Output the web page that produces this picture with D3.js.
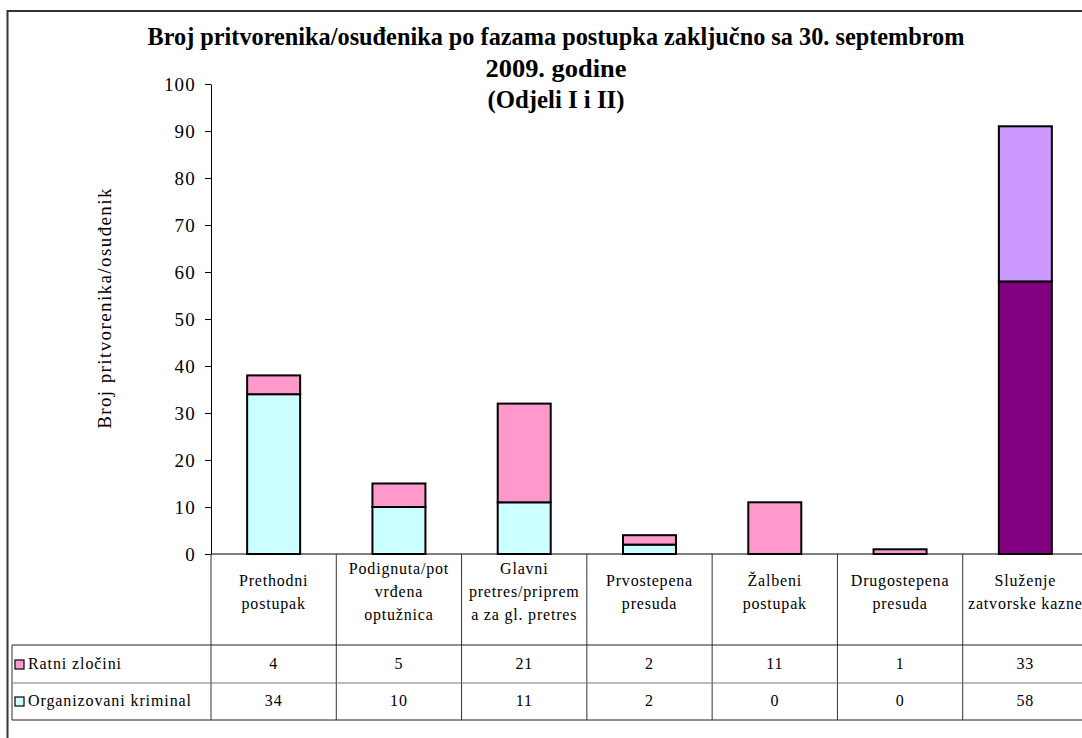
<!DOCTYPE html>
<html>
<head>
<meta charset="utf-8">
<script src="https://cdn.jsdelivr.net/npm/d3@7"></script>
<style>
  body { margin: 0; background: #fff; }
</style>
</head>
<body>
<div id="chart"></div>
<script>
// categories (table header lines, as wrapped in the original)
var categories = ["Prethodni postupak", "Podignuta/potvrđena optužnica", "Glavni pretres/priprema za gl. pretres",
                  "Prvostepena presuda", "Žalbeni postupak", "Drugostepena presuda", "Služenje zatvorske kazne"];
var headerLines = [["Prethodni", "postupak"], ["Podignuta/pot", "vrđena", "optužnica"],
                   ["Glavni", "pretres/priprem", "a za gl. pretres"], ["Prvostepena", "presuda"],
                   ["Žalbeni", "postupak"], ["Drugostepena", "presuda"], ["Služenje", "zatvorske kazne"]];

var seriesNames = ["Ratni zločini", "Organizovani kriminal"];
var ratni = [4, 5, 21, 2, 11, 1, 33];
var organizovani = [34, 10, 11, 2, 0, 0, 58];

var yTicks = [0, 10, 20, 30, 40, 50, 60, 70, 80, 90, 100];

var titleLines = ["Broj pritvorenika/osuđenika po fazama postupka zaključno sa 30. septembrom",
                  "2009. godine", "(Odjeli I i II)"];
var yLabel = "Broj pritvorenika/osuđenik";

(function() {
    var FONT = "'Liberation Serif', 'Times New Roman', serif";
    var W = 1082, H = 738;
    var svg = d3.select("#chart").append("svg").attr("width", W).attr("height", H)
        .attr("font-family", FONT);

    // outer frame (right/bottom edges fall outside the picture)
    svg.append("path").attr("d", "M7.5,738 V11 H1082")
        .attr("fill", "none").attr("stroke", "#333").attr("stroke-width", 2);

    var plotLeft = 211, plotRight = 1088, plotTop = 84, zero = 554;

    var xCol = d3.scaleBand().domain(d3.range(categories.length)).range([plotLeft, plotRight]);
    var xBar = d3.scaleBand().domain(d3.range(categories.length)).range([plotLeft, plotRight])
        .paddingInner(0.577).paddingOuter(0.2885);
    var y = d3.scaleLinear().domain([0, 100]).range([zero, plotTop]);

    // title - condensed bold, squeezed to the widths of the original
    var titleWidths = [817, 141, 137];
    svg.append("g").selectAll("text").data(titleLines).enter().append("text")
        .attr("x", 556).attr("y", function(d, i) { return 45 + i * 31.5; })
        .attr("text-anchor", "middle")
        .attr("font-weight", "bold").attr("font-size", 26)
        .attr("textLength", function(d, i) { return titleWidths[i]; })
        .attr("lengthAdjust", "spacingAndGlyphs")
        .text(function(d) { return d; });

    // y axis
    var yAxis = svg.append("g").attr("transform", "translate(" + plotLeft + ",0)")
        .call(d3.axisLeft(y).tickValues(yTicks).tickSize(6).tickSizeOuter(0).tickPadding(9));
    yAxis.attr("font-family", FONT);
    yAxis.select(".domain").attr("stroke", "#000");
    yAxis.selectAll(".tick line").attr("stroke", "#000");
    yAxis.selectAll(".tick text").attr("font-size", 19).attr("letter-spacing", 1.2).attr("fill", "#000");

    svg.append("text")
        .attr("transform", "translate(111,308) rotate(-90)")
        .attr("text-anchor", "middle").attr("font-size", 19).attr("letter-spacing", 1.4)
        .text(yLabel);

    // stacked bars: organizovani at the bottom, ratni on top
    var rows = categories.map(function(c, i) { return {i: i, org: organizovani[i], ratni: ratni[i]}; });
    var stack = d3.stack().keys(["org", "ratni"])(rows);

    var normalFill = {org: "#CCFFFF", ratni: "#FF99CC"};
    var lastFill = {org: "#800080", ratni: "#CC99FF"};

    svg.append("g").selectAll("g").data(stack).enter().append("g")
      .selectAll("rect").data(function(s) { return s.map(function(d) { return {key: s.key, d: d}; }); })
      .enter().filter(function(e) { return e.d[1] - e.d[0] > 0; })
      .append("rect")
        .attr("x", function(e) { return xBar(e.d.data.i); })
        .attr("width", xBar.bandwidth())
        .attr("y", function(e) { return y(e.d[1]); })
        .attr("height", function(e) { return y(e.d[0]) - y(e.d[1]); })
        .attr("fill", function(e) { return e.d.data.i === categories.length - 1 ? lastFill[e.key] : normalFill[e.key]; })
        .attr("stroke", "#000").attr("stroke-width", 2);

    // x axis line
    svg.append("line").attr("x1", plotLeft).attr("x2", W).attr("y1", zero).attr("y2", zero)
        .attr("stroke", "#000").attr("stroke-width", 1.2);

    // data table
    var rowTop = 645, rowMid = 683, rowBot = 720, tableLeft = 12;
    var table = svg.append("g");

    table.selectAll("line.v").data(d3.range(categories.length + 1)).enter().append("line")
        .attr("x1", function(i) { return i < categories.length ? xCol(i) : plotRight; })
        .attr("x2", function(i) { return i < categories.length ? xCol(i) : plotRight; })
        .attr("y1", zero).attr("y2", rowBot)
        .attr("stroke", "#333").attr("stroke-width", 1);
    table.append("line").attr("x1", tableLeft).attr("x2", tableLeft).attr("y1", rowTop).attr("y2", rowBot)
        .attr("stroke", "#333");
    table.append("line").attr("x1", tableLeft).attr("x2", W).attr("y1", rowTop).attr("y2", rowTop).attr("stroke", "#222");
    table.append("line").attr("x1", tableLeft).attr("x2", W).attr("y1", rowMid).attr("y2", rowMid).attr("stroke", "#777");
    table.append("line").attr("x1", tableLeft).attr("x2", W).attr("y1", rowBot).attr("y2", rowBot).attr("stroke", "#222");

    // header text
    table.selectAll("text.h").data(headerLines).enter().append("text")
        .attr("text-anchor", "middle").attr("font-size", 16).attr("letter-spacing", 0.8)
        .attr("transform", function(d, i) {
            var cy = 597 - (d.length - 1) * 23 / 2;
            return "translate(" + (xCol(i) + xCol.bandwidth() / 2) + "," + cy + ")";
        })
      .selectAll("tspan").data(function(d) { return d; }).enter().append("tspan")
        .attr("x", 0).attr("dy", function(d, j) { return j === 0 ? 0 : 23; })
        .text(function(d) { return d; });

    // series rows
    var tableRows = [{name: seriesNames[0], values: ratni, key: "ratni", cy: 664},
                     {name: seriesNames[1], values: organizovani, key: "org", cy: 701}];
    tableRows.forEach(function(r) {
        table.append("rect").attr("x", 15).attr("y", r.cy - 4).attr("width", 9).attr("height", 9)
            .attr("fill", normalFill[r.key]).attr("stroke", "#000").attr("stroke-width", 1.2);
        table.append("text").attr("x", 28).attr("y", r.cy + 5).attr("font-size", 16)
            .attr("letter-spacing", 0.9).text(r.name);
        table.selectAll(null).data(r.values).enter().append("text")
            .attr("x", function(v, i) { return xCol(i) + xCol.bandwidth() / 2; })
            .attr("y", r.cy + 5).attr("text-anchor", "middle").attr("font-size", 16)
            .attr("letter-spacing", 0.8)
            .text(function(v) { return v; });
    });
})();
</script>
</body>
</html>
